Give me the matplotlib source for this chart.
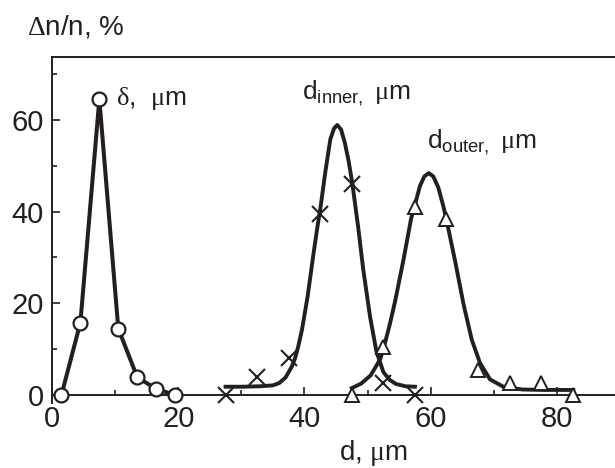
import matplotlib
matplotlib.use("Agg")
import matplotlib.pyplot as plt
from matplotlib.ticker import MultipleLocator

plt.rcParams['font.family'] = ['Liberation Sans', 'DejaVu Sans']
plt.rcParams['mathtext.fontset'] = 'custom'
plt.rcParams['mathtext.rm'] = 'Liberation Sans'
plt.rcParams['mathtext.sf'] = 'Liberation Serif'
plt.rcParams['mathtext.it'] = 'Liberation Sans:italic'

INK = '#231f20'

# --- data ---
delta_d = [1.5, 4.5, 7.5, 10.5, 13.5, 16.5, 19.5]
delta_pct = [0.0, 15.8, 64.5, 14.5, 3.9, 1.3, 0.0]

inner_d = [27.5, 32.5, 37.5, 42.5, 47.5, 52.5, 57.5]
inner_pct = [0.0, 3.9, 8.0, 39.5, 46.0, 2.6, 0.0]

outer_d = [47.5, 52.5, 57.5, 62.5, 67.5, 72.5, 77.5, 82.5]
outer_pct = [0.0, 10.5, 41.0, 38.3, 5.5, 2.6, 2.7, 0.0]

# fitted curves
inner_fit_d = [27.5, 30, 33, 35, 36, 37, 38, 38.5, 39, 39.6, 40.5, 41.4, 42, 42.5,
               43.3, 44.1, 44.7, 45.2, 45.8, 46.4, 47, 47.6, 48.5, 49.3, 50.4,
               51.4, 52.5, 53.5, 54.5, 56, 57.5]
inner_fit_pct = [1.8, 1.8, 1.9, 2.1, 2.6, 3.8, 6.2, 8.0, 10.5, 14.2, 21.5, 30.5, 36.2,
                 40.5, 48.6, 55.8, 58.2, 58.9, 57.9, 55.0, 51.0, 46.0, 36.7, 27.5,
                 17.0, 9.5, 5.0, 3.3, 2.4, 1.9, 1.8]

outer_fit_d = [47.5, 49, 50.5, 52, 52.6, 53.5, 54.4, 55.7, 56.9, 57.6, 58.3, 59, 59.7,
               60.4, 61.2, 62, 62.5, 63.9, 65.2, 66.5, 67.8, 69.4, 71.5, 74.5, 78, 82.6]
outer_fit_pct = [1.5, 2.5, 4.3, 7.8, 10.5, 15.3, 20.7, 29.6, 38.5, 42.0, 45.6, 47.7, 48.4,
                 47.7, 45.3, 41.2, 38.2, 29.0, 19.8, 12.1, 7.0, 3.4, 1.8, 1.2, 1.1, 1.1]

xticks = [0, 20, 40, 60, 80]
yticks = [0, 20, 40, 60]

W, H = 615, 468
fig = plt.figure(figsize=(W / 100, H / 100), dpi=100)
ax = fig.add_axes([52 / W, (H - 403) / H, (W - 52) / W, (403 - 56.7) / H])

ax.set_xlim(0, 89.2)
ax.set_ylim(-1.75, 73.8)

ax.plot(delta_d, delta_pct, '-', color=INK, lw=2.9, zorder=3)
ax.plot(delta_d, delta_pct, 'o', ms=10, mfc='white', mec=INK, mew=1.6, zorder=5)

ax.plot(inner_fit_d, inner_fit_pct, '-', color=INK, lw=2.8, zorder=3)
ax.plot(outer_fit_d, outer_fit_pct, '-', color=INK, lw=2.8, zorder=3)
ax.plot(inner_d, inner_pct, 'x', ms=11, mec=INK, mew=1.5, zorder=5)
ax.plot(outer_d, outer_pct, '^', ms=10, mfc='white', mec=INK, mew=1.4, zorder=5)

ax.spines['right'].set_visible(False)
ax.spines['bottom'].set_position(('data', 0))
for s in ['left', 'bottom', 'top']:
    ax.spines[s].set_linewidth(1.4)
    ax.spines[s].set_color(INK)

ax.set_xticks(xticks)
ax.set_yticks(yticks)
ax.xaxis.set_minor_locator(MultipleLocator(10))
ax.yaxis.set_minor_locator(MultipleLocator(10))
ax.tick_params(which='both', direction='in', top=False, right=False,
               color=INK, labelcolor=INK, labelsize=21)
ax.tick_params(which='major', length=6, width=1.2)
ax.tick_params(which='minor', length=3.5, width=1.2)
ax.tick_params(axis='x', which='major', pad=7)
ax.tick_params(axis='y', which='major', pad=6)

ax.text(10.1, 63.3, r'$\mathsf{δ}$,  $\mathsf{μ}$m', fontsize=19, color=INK,
        ha='left', va='baseline')
ax.text(39.6, 64.5, r'd$_{\mathrm{inner},}$ $\mathsf{μ}$m', fontsize=19, color=INK,
        ha='left', va='baseline')
ax.text(59.4, 53.8, r'd$_{\mathrm{outer},}$ $\mathsf{μ}$m', fontsize=19, color=INK,
        ha='left', va='baseline')

fig.text(27 / W, (H - 35) / H, r'$\mathsf{Δ}$n/n, %', fontsize=20, color=INK,
         ha='left', va='baseline')
fig.text(373 / W, (H - 460) / H, r'd, $\mathsf{μ}$m', fontsize=20, color=INK,
         ha='center', va='baseline')

fig.savefig('out.png', dpi=100)
